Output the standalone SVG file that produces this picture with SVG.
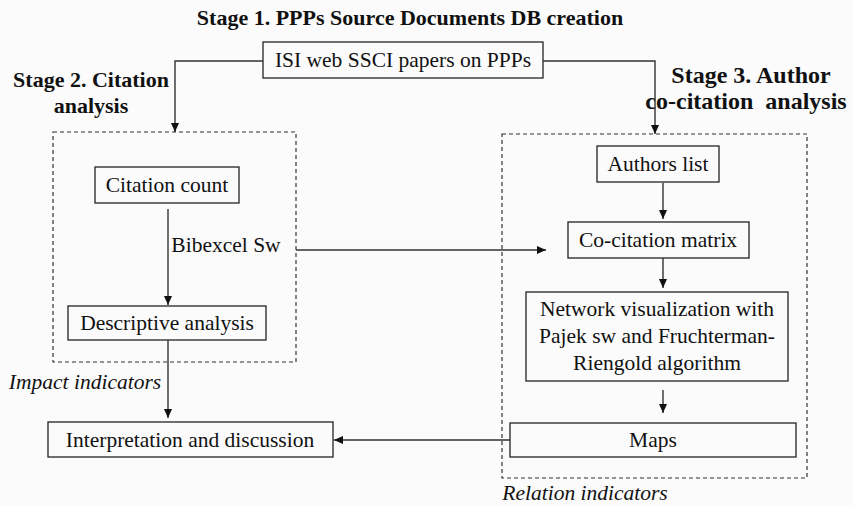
<svg xmlns="http://www.w3.org/2000/svg" width="853" height="506" viewBox="0 0 853 506" font-family="'Liberation Serif', 'DejaVu Serif', serif">
<style>
text{font-family:"Liberation Serif","DejaVu Serif",serif;fill:#111;}
.t{font-size:21.5px;}
.b{font-size:22px;font-weight:bold;}
.b3{font-size:24px;font-weight:bold;}
.i{font-size:21.5px;font-style:italic;}
.box{fill:none;stroke:#222;stroke-width:1.3;}
.dash{fill:none;stroke:#333;stroke-width:1.2;stroke-dasharray:4,3;}
.ln{fill:none;stroke:#333;stroke-width:1.4;}
</style>
<defs>
<marker id="ah" markerWidth="10" markerHeight="8" refX="9" refY="4" orient="auto" markerUnits="userSpaceOnUse">
<path d="M0,0 L9,4 L0,8 Z" fill="#111"/>
</marker>
</defs>
<rect width="853" height="506" fill="#fbfbfb"/>

<text class="b" x="410" y="25" text-anchor="middle">Stage 1. PPPs Source Documents DB creation</text>
<text class="b" x="91" y="87" text-anchor="middle">Stage 2. Citation</text>
<text class="b" x="91" y="113" text-anchor="middle">analysis</text>
<text class="b3" x="751" y="83" text-anchor="middle">Stage 3. Author</text>
<text class="b3" x="746" y="109" text-anchor="middle" xml:space="preserve">co-citation  analysis</text>

<g id="stage2-group"><rect class="dash" x="53" y="132" width="243" height="230"/></g>
<g id="stage3-group"><rect class="dash" x="502" y="134" width="305" height="344"/></g>

<g id="isi"><rect class="box" x="263" y="42" width="280" height="36"/><text class="t" x="403" y="67" text-anchor="middle">ISI web SSCI papers on PPPs</text></g>
<g id="citation-count"><rect class="box" x="95" y="167" width="144" height="36"/><text class="t" x="167" y="192" text-anchor="middle">Citation count</text></g>
<g id="descriptive"><rect class="box" x="68" y="306" width="198" height="34"/><text class="t" x="167" y="330" text-anchor="middle">Descriptive analysis</text></g>
<g id="interpretation"><rect class="box" x="48" y="422" width="285" height="35"/><text class="t" x="190" y="447" text-anchor="middle">Interpretation and discussion</text></g>
<g id="authors"><rect class="box" x="597" y="146" width="122" height="36"/><text class="t" x="658" y="171" text-anchor="middle">Authors list</text></g>
<g id="cocitation"><rect class="box" x="568" y="222" width="181" height="36"/><text class="t" x="658" y="247" text-anchor="middle">Co-citation matrix</text></g>
<g id="network"><rect class="box" x="526" y="292" width="262" height="89"/>
<text class="t" x="657" y="316" text-anchor="middle">Network visualization with</text>
<text class="t" x="657" y="343" text-anchor="middle">Pajek sw and Fruchterman-</text>
<text class="t" x="657" y="370" text-anchor="middle">Riengold algorithm</text></g>
<g id="maps"><rect class="box" x="510" y="423" width="286" height="34"/><text class="t" x="653" y="447" text-anchor="middle">Maps</text></g>

<g id="connectors">
<path class="ln" d="M263,61 H175 V132" marker-end="url(#ah)"/>
<path class="ln" d="M543,61 H655 V134" marker-end="url(#ah)"/>
<path class="ln" d="M168,209 V305" marker-end="url(#ah)"/>
<path class="ln" d="M296,250 H546" marker-end="url(#ah)"/>
<path class="ln" d="M663,183 V219" marker-end="url(#ah)"/>
<path class="ln" d="M663,258 V288" marker-end="url(#ah)"/>
<path class="ln" d="M663,390 V413" marker-end="url(#ah)"/>
<path class="ln" d="M168,340 V418" marker-end="url(#ah)"/>
<path class="ln" d="M510,440 H334" marker-end="url(#ah)"/>
</g>

<text class="t" x="226" y="252" text-anchor="middle">Bibexcel Sw</text>
<text class="i" x="85" y="389" text-anchor="middle">Impact indicators</text>
<text class="i" x="585" y="500" text-anchor="middle">Relation indicators</text>
</svg>
